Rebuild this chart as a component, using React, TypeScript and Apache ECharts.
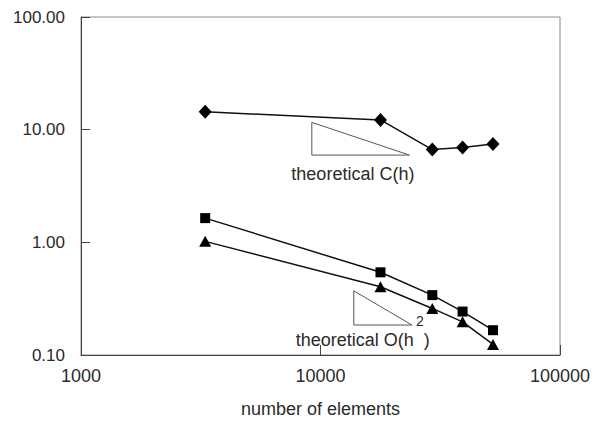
import React, { useEffect, useRef } from "react";
import * as echarts from "echarts";

// number of elements (shared x positions)
const elements = [3300, 17800, 29300, 39200, 52500];
// diamond series (upper)
const diamondValues = [14.4, 12.2, 6.66, 6.96, 7.46];
// square series
const squareValues = [1.64, 0.542, 0.34, 0.243, 0.166];
// triangle series
const triangleValues = [1.02, 0.403, 0.259, 0.197, 0.124];

// axis tick labels
const xTickLabels = ["1000", "10000", "100000"];
const yTickLabels = ["0.10", "1.00", "10.00", "100.00"];

// annotation slope triangles (data coordinates)
const triangleC = [
  [9200, 11.6],
  [9200, 5.95],
  [23500, 5.95],
  [9200, 11.6],
];
const triangleO = [
  [13770, 0.371],
  [13770, 0.1845],
  [24100, 0.1845],
  [13770, 0.371],
];
const labelC = { text: "theoretical C(h)", x: 13650, y: 4.06 };
const labelO = { text: "theoretical O(h  )", x: 15000, y: 0.137 };
const labelSup = { text: "2", x: 26000, y: 0.2 };

const FONT = "'Liberation Sans', Arial, Helvetica, sans-serif";
const TEXT = "#2a2a2a";

export default function App() {
  const ref = useRef<HTMLDivElement>(null);
  useEffect(() => {
    document.body.style.margin = "0";
    const chart = echarts.init(ref.current!, null, {
      renderer: "svg",
      width: 597,
      height: 425,
    });
    const pair = (vals: number[]) => elements.map((x, i) => [x, vals[i]]);
    const lineStyle = { color: "#111", width: 1.5 };
    const option: any = {
      animation: false,
      backgroundColor: "#fff",
      grid: {
        left: 81,
        right: 37,
        top: 17,
        bottom: 70,
        containLabel: false,
        outerBoundsMode: "none",
        show: true,
        borderColor: "#8a8a8a",
        borderWidth: 1,
      },
      xAxis: {
        type: "log",
        logBase: 10,
        min: 1000,
        max: 100000,
        name: "number of elements",
        nameLocation: "middle",
        nameGap: 45,
        nameTextStyle: { fontFamily: FONT, fontSize: 18, color: TEXT },
        axisLine: { show: true, lineStyle: { color: "#444", width: 1 } },
        axisTick: { show: true, inside: true, length: 10, lineStyle: { color: "#444" } },
        minorTick: { show: false },
        splitLine: { show: false },
        axisLabel: {
          fontFamily: FONT,
          fontSize: 18,
          color: TEXT,
          margin: 12,
          formatter: (v: number) => {
            const i = Math.round(Math.log10(v)) - 3;
            return xTickLabels[i] ?? String(v);
          },
        },
      },
      yAxis: {
        type: "log",
        logBase: 10,
        min: 0.1,
        max: 100,
        axisLine: { show: true, lineStyle: { color: "#444", width: 1 } },
        axisTick: { show: true, inside: true, length: 9, lineStyle: { color: "#444" } },
        minorTick: { show: false },
        splitLine: { show: false },
        axisLabel: {
          fontFamily: FONT,
          fontSize: 17,
          color: TEXT,
          margin: 16,
          formatter: (v: number) => {
            const i = Math.round(Math.log10(v)) + 1;
            return yTickLabels[i] ?? v.toFixed(2);
          },
        },
      },
      series: [
        {
          type: "line",
          data: pair(diamondValues),
          symbol: "diamond",
          symbolSize: [13, 14],
          itemStyle: { color: "#000" },
          lineStyle,
        },
        {
          type: "line",
          data: pair(squareValues),
          symbol: "rect",
          symbolSize: 10,
          itemStyle: { color: "#000" },
          lineStyle,
        },
        {
          type: "line",
          data: pair(triangleValues),
          symbol: "triangle",
          symbolSize: [12, 11],
          itemStyle: { color: "#000" },
          lineStyle,
        },
        {
          type: "line",
          data: triangleC,
          symbol: "none",
          lineStyle: { color: "#555", width: 1 },
        },
        {
          type: "line",
          data: triangleO,
          symbol: "none",
          lineStyle: { color: "#555", width: 1 },
        },
      ],
    };
    chart.setOption(option);
    const px = (x: number, y: number) =>
      chart.convertToPixel({ gridIndex: 0 }, [x, y]) as number[];
    const mk = (l: { text: string; x: number; y: number }, size: number) => {
      const [x, y] = px(l.x, l.y);
      return {
        type: "text",
        x,
        y,
        style: {
          text: l.text,
          fontFamily: FONT,
          fontSize: size,
          fill: TEXT,
          align: "center",
          verticalAlign: "middle",
        },
      };
    };
    chart.setOption({
      graphic: [mk(labelC, 18), mk(labelO, 18), mk(labelSup, 14)],
    });
    return () => chart.dispose();
  }, []);
  return <div ref={ref} style={{ width: 597, height: 425 }} />;
}
